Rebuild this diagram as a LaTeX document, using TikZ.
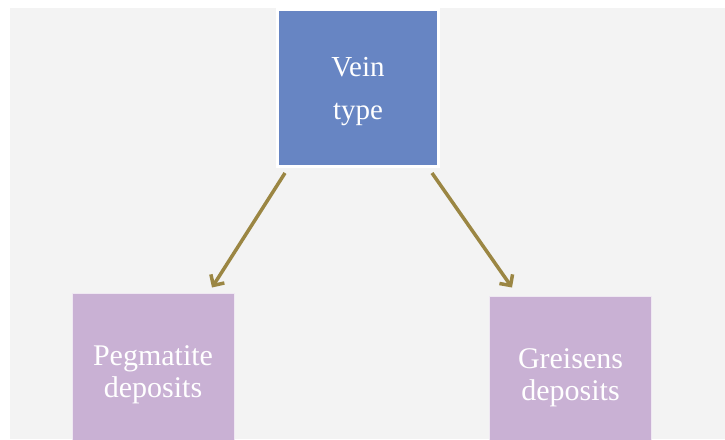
\documentclass[tikz,border=0pt]{standalone}
\usepackage{fontspec}
\setmainfont{Liberation Serif}
\usepackage{tikz}
\usepackage{xcolor}
\usetikzlibrary{arrows.meta, positioning, calc}
\definecolor{bggray}{HTML}{F3F3F3}
\definecolor{veinblue}{HTML}{6785C3}
\definecolor{deplilac}{HTML}{C9B1D4}
\definecolor{arrowolive}{HTML}{9B8643}
\tikzset{
	veinblock/.style={rectangle, draw=white, line width=3pt, fill=veinblue,
		minimum width=161pt, minimum height=157pt},
	depblock/.style={rectangle, draw=white!70!deplilac, line width=1pt, fill=deplilac,
		minimum width=162pt, minimum height=156pt},
	veintext/.style={align=center, text=white, yshift=-4pt,
		font=\fontsize{29}{43}\selectfont},
	deptext/.style={align=center, text=white, yshift=-4pt,
		font=\fontsize{30}{32}\selectfont},
	arrow/.style={-{Straight Barb[length=8pt, width=16pt]}, line width=3.5pt, arrowolive},
}
\begin{document}
\begin{tikzpicture}[x=1pt, y=-1pt]
	\clip (0,0) rectangle (725,439);
	\fill[white] (0,0) rectangle (725,439);
	\fill[bggray] (10,8) rectangle (725,439);
	% Top
	\node[veinblock, label={[veintext]center:Vein\\type}] (vein) at (358,88) {};
	% Bottom
	\node[depblock, label={[deptext]center:Pegmatite\\deposits}] (peg) at (153,371) {};
	\node[depblock, label={[deptext]center:Greisens\\deposits}] (greis) at (570.5,374) {};
	% Arrows
	\coordinate (lstart) at ($(vein.south west)+(9,5)$);
	\coordinate (rstart) at ($(vein.south east)+(-8,5)$);
	\coordinate (lend) at ($(peg.north)+(59,-5)$);
	\coordinate (rend) at ($(greis.north)+(-58.5,-8)$);
	\draw[arrow] (lstart) -- (lend);
	\draw[arrow] (rstart) -- (rend);
\end{tikzpicture}
\end{document}
